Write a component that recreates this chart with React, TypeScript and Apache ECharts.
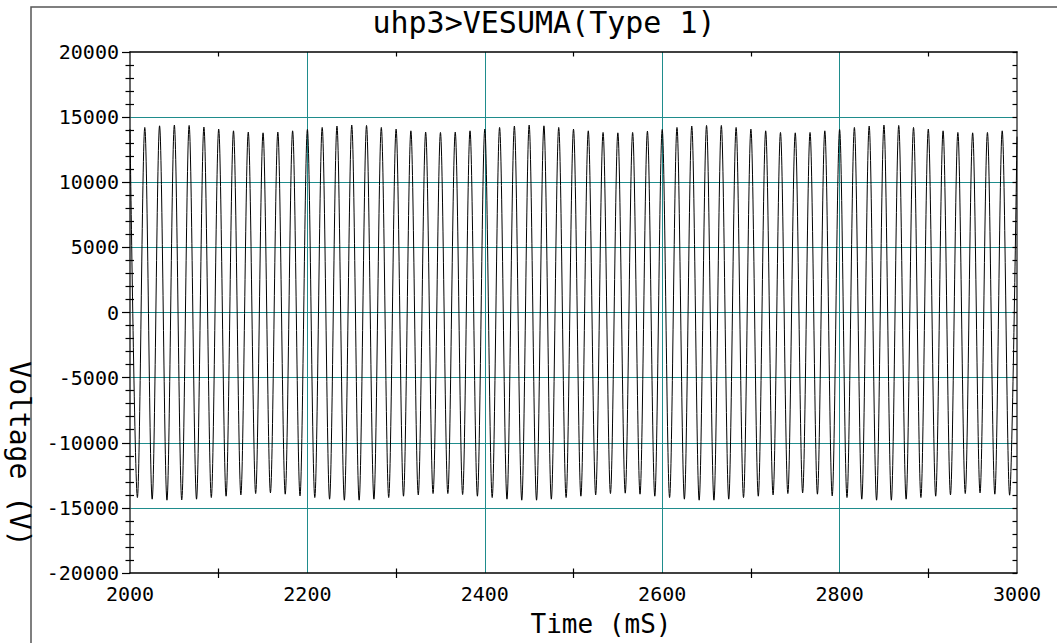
import React, { useEffect, useRef } from "react";
import * as echarts from "echarts";

// ---- data ----
const chartTitle = "uhp3>VESUMA(Type 1)";
const xName = "Time (mS)";
const yName = "Voltage (V)";
const xMin = 2000;
const xMax = 3000;
const xTickStep = 200;
const yMin = -20000;
const yMax = 20000;
const yTickStep = 5000;
// 60 Hz waveform: one period in ms
const periodMs = 1000 / 60;
// positive peak values, at 2000 + k * period (k = 0..60)
const peakValues = [
  14077, 14205, 14333, 14385, 14359, 14231, 14077, 13949, 13846, 13795, 13846, 13949, 14051,
  14205, 14308, 14385, 14359, 14205, 14077, 13949, 13846, 13821, 13846, 13949, 14077, 14205,
  14308, 14385, 14333, 14205, 14077, 13949, 13821, 13795, 13821, 13923, 14051, 14205,
  14308, 14359, 14359, 14205, 14077, 13949, 13821, 13795, 13821, 13949, 14051, 14205,
  14308, 14385, 14359, 14205, 14077, 13949, 13821, 13795, 13821, 13949, 13500,
];
// negative trough values, at 2000 + (k + 0.5) * period (k = 0..59)
const troughValues = [
  -14205, -14333, -14410, -14385, -14333, -14205, -14103, -14000, -13897, -13846, -13949, -14077, -14205,
  -14333, -14410, -14410, -14333, -14205, -14103, -14000, -13897, -13897, -13974, -14103, -14205,
  -14333, -14410, -14410, -14333, -14205, -14103, -14000, -13897, -13872, -13949, -14103, -14205,
  -14333, -14410, -14410, -14333, -14205, -14103, -14000, -13897, -13846, -13949, -14077, -14205,
  -14333, -14410, -14410, -14333, -14205, -14103, -14000, -13897, -13846, -13949, -14026,
];

const FONT = "DejaVu Sans Mono";
const TEAL = "#1f8c8c";

export default function App() {
  const ref = useRef<HTMLDivElement>(null);
  useEffect(() => {
    if (!ref.current) return;
    const chart = echarts.init(ref.current, null, { renderer: "svg" });

    const data: number[][] = [];
    for (let k = 0; k < peakValues.length; k++) {
      data.push([xMin + k * periodMs, peakValues[k]]);
      if (k < troughValues.length) {
        data.push([xMin + (k + 0.5) * periodMs, troughValues[k]]);
      }
    }

    const plain = (v: number) => String(v);

    const baseX = {
      type: "value",
      min: xMin,
      max: xMax,
      interval: xTickStep,
      axisLabel: { show: false },
      axisLine: { show: false, onZero: false },
      axisTick: { show: false },
      splitLine: { show: false },
      minorTick: { show: false },
    };
    const baseY = {
      type: "value",
      min: yMin,
      max: yMax,
      interval: yTickStep,
      axisLabel: { show: false },
      axisLine: { show: false, onZero: false },
      axisTick: { show: false },
      splitLine: { show: false },
      minorTick: { show: false },
    };

    chart.setOption({
      animation: false,
      backgroundColor: "#ffffff",
      grid: { left: 130, right: 40, top: 52, bottom: 70, containLabel: false },
      graphic: [
        {
          type: "rect",
          z: -10,
          silent: true,
          shape: { x: 31, y: 7, width: 1100, height: 700 },
          style: { fill: "none", stroke: "#555555", lineWidth: 1.5 },
        },
        {
          type: "text",
          x: 544,
          y: 22,
          style: {
            text: chartTitle,
            font: `30px '${FONT}'`,
            fill: "#000",
            align: "center",
            verticalAlign: "middle",
          },
        },
        {
          type: "text",
          x: 601,
          y: 624,
          style: {
            text: xName,
            font: `26px '${FONT}'`,
            fill: "#000",
            align: "center",
            verticalAlign: "middle",
          },
        },
        {
          type: "text",
          x: 19,
          y: 454,
          rotation: -Math.PI / 2,
          style: {
            text: yName,
            font: `28px '${FONT}'`,
            fill: "#000",
            align: "center",
            verticalAlign: "middle",
          },
        },
      ],
      xAxis: [
        {
          ...baseX,
          position: "bottom",
          axisLine: { show: true, onZero: false, lineStyle: { color: "#000", width: 1.5 } },
          axisTick: { show: false, inside: false },
          minorTick: { show: true, splitNumber: 2, length: 5, lineStyle: { color: "#000", width: 1.2 } },
          axisLabel: {
            show: true,
            margin: 11,
            fontFamily: FONT,
            fontSize: 20,
            color: "#000",
            formatter: plain,
          },
          splitLine: { show: true, showMinLine: false, showMaxLine: false, lineStyle: { color: TEAL, width: 1 } },
        },
        {
          ...baseX,
          position: "bottom",
          axisTick: { show: false, inside: true },
          minorTick: { show: true, splitNumber: 2, length: 4.5, lineStyle: { color: "#000", width: 1.2 } },
        },
        {
          ...baseX,
          position: "top",
          axisLine: { show: true, onZero: false, lineStyle: { color: "#000", width: 1.5 } },
          axisTick: { show: false, inside: true },
          minorTick: { show: true, splitNumber: 2, length: 4.5, lineStyle: { color: "#000", width: 1.2 } },
        },
      ],
      yAxis: [
        {
          ...baseY,
          position: "left",
          axisLine: { show: true, onZero: false, lineStyle: { color: "#333", width: 1.5 } },
          axisTick: { show: true, inside: false, length: 8, lineStyle: { color: "#000", width: 1.2 } },
          minorTick: { show: true, splitNumber: 5, length: 4.5, lineStyle: { color: "#000", width: 1.2 } },
          axisLabel: {
            show: true,
            margin: 11,
            fontFamily: FONT,
            fontSize: 20,
            color: "#000",
            formatter: plain,
          },
          splitLine: { show: true, showMinLine: false, showMaxLine: false, lineStyle: { color: TEAL, width: 1 } },
        },
        {
          ...baseY,
          position: "left",
          axisTick: { show: false, inside: true },
          minorTick: { show: true, splitNumber: 5, length: 4, lineStyle: { color: "#000", width: 1.2 } },
        },
        {
          ...baseY,
          position: "right",
          axisLine: { show: true, onZero: false, lineStyle: { color: "#444", width: 1.5 } },
          axisTick: { show: true, inside: true, length: 4.5, lineStyle: { color: "#000", width: 1.2 } },
          minorTick: { show: true, splitNumber: 5, length: 4.5, lineStyle: { color: "#000", width: 1.2 } },
        },
      ],
      series: [
        {
          type: "line",
          xAxisIndex: 0,
          yAxisIndex: 0,
          data,
          smooth: 0.33,
          showSymbol: false,
          symbol: "none",
          lineStyle: { color: "#000", width: 1 },
          z: 5,
        },
      ],
    });
    return () => chart.dispose();
  }, []);
  return (
    <div
      ref={ref}
      style={{ position: "fixed", left: 0, top: 0, width: 1057, height: 643, background: "#fff" }}
    />
  );
}
